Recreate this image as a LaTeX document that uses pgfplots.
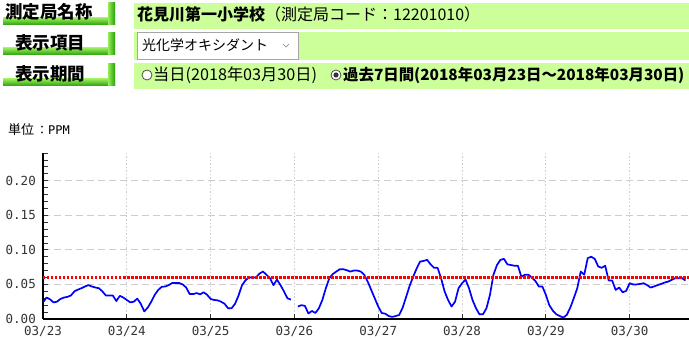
\documentclass[border=0pt]{standalone}
\usepackage{pgfplots}
\pgfplotsset{compat=1.18}
\usepackage{pgfplotstable}
\usepackage{fontspec}
\usetikzlibrary{shadings}
\newfontfamily\jp{Noto Sans CJK JP}
\newfontfamily\mono{DejaVu Sans Mono}
\definecolor{barg}{RGB}{204,255,153}
\definecolor{btnl}{RGB}{150,235,90}
\definecolor{btnd}{RGB}{40,160,10}
\definecolor{gridc}{RGB}{205,205,205}
\pgfplotstableread{
x y
0 0.024
1 0.031
2 0.0285
3 0.024
4 0.025
5 0.029
6 0.031
7 0.032
8 0.034
9 0.040
10 0.0425
11 0.0445
12 0.047
13 0.049
14 0.047
15 0.0455
16 0.0445
17 0.040
18 0.034
19 0.034
20 0.034
21 0.026
22 0.0335
23 0.031
24 0.0275
25 0.024
26 0.025
27 0.0295
28 0.022
29 0.011
30 0.0165
31 0.025
32 0.035
33 0.042
34 0.0465
35 0.047
36 0.049
37 0.052
38 0.052
39 0.052
40 0.050
41 0.0455
42 0.036
43 0.036
44 0.0375
45 0.0357
46 0.0386
47 0.035
48 0.029
49 0.0275
50 0.027
51 0.025
52 0.022
53 0.0155
54 0.0155
55 0.022
56 0.034
57 0.049
58 0.056
59 0.060
60 0.060
61 0.060
62 0.0657
63 0.0686
64 0.064
65 0.059
66 0.049
67 0.057
68 0.049
69 0.040
70 0.030
71 0.028
72 nan
73 0.018
74 0.020
75 0.019
76 0.008
77 0.0116
78 0.0087
79 0.0155
80 0.0275
81 0.0445
82 0.059
83 0.065
84 0.0686
85 0.072
86 0.072
87 0.0705
88 0.0686
89 0.070
90 0.070
91 0.0686
92 0.064
93 0.054
94 0.042
95 0.030
96 0.018
97 0.0087
98 0.0077
99 0.0043
100 0.003
101 0.0043
102 0.0058
103 0.0164
104 0.032
105 0.048
106 0.061
107 0.073
108 0.083
109 0.084
110 0.0855
111 0.079
112 0.074
113 0.074
114 0.059
115 0.040
116 0.0275
117 0.018
118 0.025
119 0.0445
120 0.0517
121 0.057
122 0.0445
123 0.0275
124 0.0155
125 0.0068
126 0.0068
127 0.0155
128 0.035
129 0.064
130 0.078
131 0.0855
132 0.087
133 0.079
134 0.078
135 0.077
136 0.077
137 0.061
138 0.064
139 0.064
140 0.060
141 0.055
142 0.047
143 0.047
144 0.035
145 0.020
146 0.012
147 0.0068
148 0.0043
149 0.002
150 0.006
151 0.0164
152 0.030
153 0.0445
154 0.0686
155 0.064
156 0.088
157 0.090
158 0.087
159 0.076
160 0.074
161 0.077
162 0.0556
163 0.0556
164 0.042
165 0.0455
166 0.0386
167 0.0406
168 0.0517
169 0.050
170 0.050
171 0.0507
172 0.0517
173 0.049
174 0.0455
175 0.047
176 0.049
177 0.0507
178 0.0527
179 0.054
180 0.0565
181 0.059
182 0.059
183 0.059
184 0.0556
}\oxdata
\pgfplotstableread{
x y
0 0.06
185 0.06
}\stddata
\begin{document}
\begin{tikzpicture}[x=1pt,y=1pt]
\useasboundingbox (0,0) rectangle (689,340);
\fill[white] (0,0) rectangle (689,340);
% green bars
\fill[barg] (134,311) rectangle (689,337);
\fill[barg] (134,280) rectangle (689,308);
\fill[barg] (134,251) rectangle (689,277);
% buttons
\shade[top color=btnl, bottom color=btnd] (3,315) rectangle (115,322);
\shade[left color=btnl, right color=btnd] (108,315) rectangle (115,337);
\shade[top color=btnl, bottom color=btnd] (3,285) rectangle (115,292);
\shade[left color=btnl, right color=btnd] (108,285) rectangle (115,307);
\shade[top color=btnl, bottom color=btnd] (3,254) rectangle (115,261);
\shade[left color=btnl, right color=btnd] (108,254) rectangle (115,276);
\node[font=\jp\bfseries\fontsize{17.5}{17.5}\selectfont, inner sep=0pt] at (49,328.5) {測定局名称};
\node[font=\jp\bfseries\fontsize{17.5}{17.5}\selectfont, inner sep=0pt] at (50.5,297.5) {表示項目};
\node[font=\jp\bfseries\fontsize{17.5}{17.5}\selectfont, inner sep=0pt] at (50.5,266) {表示期間};
% row 1 text
\node[font=\jp\fontsize{16}{16}\selectfont, anchor=west, inner sep=0pt] at (137,326) {{\bfseries 花見川第一小学校}（測定局コード：12201010）};
% row 2 select
\draw[gray!70, fill=white, line width=0.8pt] (137,281) rectangle (298,308);
\node[font=\jp\fontsize{14}{14}\selectfont, anchor=west, inner sep=0pt] at (142,294.5) {光化学オキシダント};
\draw[gray, line width=0.6pt] (283,296)--(286,293)--(289,296);
% row 3 radios
\draw[black!70, line width=0.8pt, fill=white] (147,265) circle (5);
\node[font=\jp\fontsize{16.2}{16.2}\selectfont, anchor=west, inner sep=0pt] at (153,265) {当日(2018年03月30日)};
\draw[black!70, line width=0.8pt, fill=white] (336,265) circle (5);
\fill[black!80] (336,265) circle (2.6);
\node[font=\jp\bfseries\fontsize{15.4}{15.4}\selectfont, anchor=west, inner sep=0pt] at (343,265) {過去7日間(2018年03月23日〜2018年03月30日)};
% unit
\node[anchor=west, inner sep=0pt] at (8,210) {{\jp\fontsize{13}{13}\selectfont 単位}\hspace{2pt}{\jp\fontsize{12}{12}\selectfont ：}{\mono\fontsize{12}{12}\selectfont PPM}};
\begin{axis}[
  at={(43pt,21pt)}, anchor=south west,
  scale only axis, width=646pt, height=166pt,
  xmin=0, xmax=185, ymin=0, ymax=0.24,
  axis lines*=left,
  axis line style={black, line width=1.2pt},
  xtick={0,24,48,72,96,120,144,168},
  xticklabels={03/23,03/24,03/25,03/26,03/27,03/28,03/29,03/30},
  ytick={0,0.05,0.10,0.15,0.20},
  yticklabels={0.00,0.05,0.10,0.15,0.20},
  minor ytick={0.01,0.02,0.03,0.04,0.06,0.07,0.08,0.09,0.11,0.12,0.13,0.14,0.16,0.17,0.18,0.19,0.21,0.22,0.23,0.24},
  scaled y ticks=false,
  tick align=inside,
  major tick length=5pt, minor tick length=5pt,
  tick style={black!80, line width=0.8pt},
  xmajorgrids, ymajorgrids,
  x grid style={gridc, line width=0.8pt, dash pattern=on 1.5pt off 2pt},
  y grid style={gridc, line width=1pt, dash pattern=on 7pt off 4pt},
  tick label style={font=\mono\fontsize{12.5}{12.5}\selectfont, text=black!80},
  yticklabel style={anchor=east, inner sep=0pt, xshift=-7pt},
  xticklabel style={anchor=north, inner sep=0pt, yshift=-7.5pt},
  unbounded coords=jump,
]
\addplot[blue, line width=1.7pt, line join=round] table[x=x,y=y] {\oxdata};
\addplot[red, line width=2.2pt, dash pattern=on 2.5pt off 1.5pt] table[x=x,y=y] {\stddata};
\end{axis}
\end{tikzpicture}
\end{document}
